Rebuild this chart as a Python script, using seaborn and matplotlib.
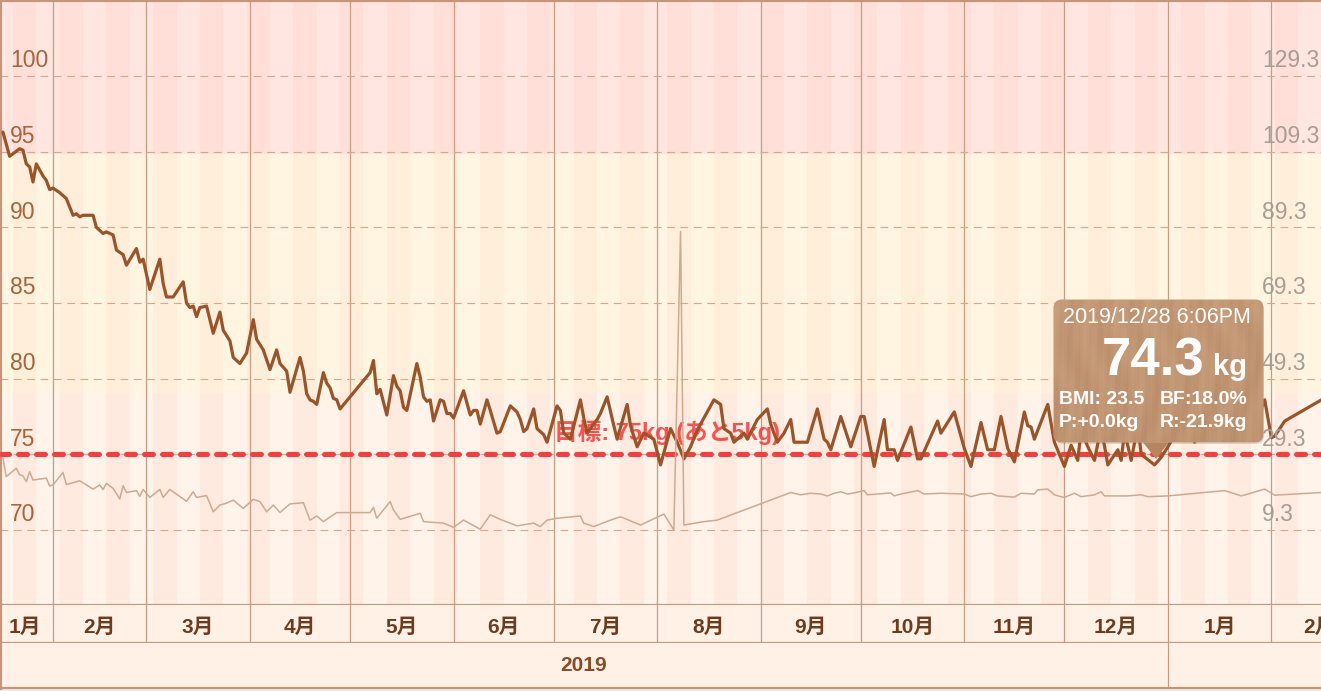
import numpy as np
import pandas as pd
import seaborn as sns
import matplotlib.pyplot as plt
import matplotlib.transforms as mtransforms
from matplotlib.patches import Rectangle, FancyBboxPatch, Polygon

# measurement days, counted from 2019-01-01 (= day 0)
weight_day = [16, 18, 21, 22, 23, 24, 25, 26, 28, 29,
              30, 31, 33, 35, 37, 38, 39, 40, 43, 44,
              46, 47, 49, 50, 52, 53, 56, 57, 58, 60,
              63, 64, 65, 67, 70, 71, 72, 73, 74, 75,
              77, 79, 81, 82, 84, 85, 87, 89, 91, 92,
              94, 96, 98, 99, 101, 102, 105, 106, 107, 108,
              109, 110, 112, 113, 114, 115, 116, 117, 126, 127,
              128, 129, 131, 133, 134, 135, 136, 137, 140, 141,
              142, 143, 144, 145, 147, 148, 149, 150, 151, 154,
              156, 157, 158, 159, 161, 162, 164, 165, 168, 170,
              171, 172, 173, 175, 176, 178, 179, 182, 183, 184,
              186, 189, 190, 191, 192, 194, 195, 197, 199, 200,
              203, 204, 206, 208, 211, 213, 216, 218, 220, 222,
              224, 229, 231, 232, 234, 235, 238, 239, 242, 245,
              246, 248, 250, 252, 253, 255, 257, 260, 262, 263,
              264, 267, 270, 273, 274, 277, 280, 281, 283, 284,
              288, 290, 291, 296, 297, 301, 304, 306, 309, 311,
              313, 315, 317, 319, 322, 323, 324, 325, 329, 331,
              334, 336, 338, 339, 341, 343, 345, 347, 350, 351,
              352, 354, 356, 357, 361, 363, 365, 369, 373, 378,
              382, 387, 391, 394, 396, 397, 400, 411]
weight_kg = [96.3, 94.7, 95.2, 95.1, 94.2, 94.0, 93.0, 94.2, 93.4, 93.1,
             92.5, 92.6, 92.3, 91.9, 90.8, 90.9, 90.7, 90.8, 90.8, 90.0,
             89.6, 89.7, 89.5, 88.5, 88.2, 87.5, 88.6, 87.7, 87.9, 85.9,
             87.9, 86.3, 85.4, 85.4, 86.4, 85.0, 84.7, 84.8, 84.1, 84.7,
             84.8, 83.0, 84.4, 83.2, 82.5, 81.4, 81.0, 81.7, 83.9, 82.6,
             81.9, 80.6, 81.9, 81.0, 80.5, 79.1, 81.4, 80.5, 79.0, 78.6,
             78.5, 78.3, 80.4, 79.7, 79.4, 78.7, 78.6, 78.0, 80.4, 81.2,
             79.0, 79.3, 77.6, 80.2, 79.5, 79.2, 78.1, 77.9, 81.0, 80.1,
             78.8, 78.5, 78.6, 77.2, 78.6, 78.5, 77.7, 77.7, 77.4, 79.2,
             77.6, 77.9, 77.9, 77.0, 78.6, 77.9, 76.4, 76.5, 78.2, 77.8,
             77.3, 76.5, 76.7, 78.0, 76.7, 76.3, 75.8, 78.2, 77.9, 76.4,
             76.0, 78.6, 77.4, 76.4, 76.7, 77.3, 77.7, 78.8, 76.9, 76.0,
             78.3, 76.9, 75.5, 76.4, 76.0, 74.3, 76.7, 75.8, 74.7, 75.5,
             76.6, 78.6, 78.3, 76.7, 76.4, 75.8, 76.4, 76.0, 77.3, 78.0,
             77.0, 75.8, 76.4, 77.3, 75.8, 75.8, 75.8, 78.0, 76.0, 75.8,
             75.3, 77.5, 75.5, 77.5, 77.5, 74.2, 77.3, 75.3, 75.3, 74.6,
             76.8, 74.7, 74.7, 77.2, 76.4, 77.8, 75.4, 74.2, 77.1, 75.3,
             75.3, 77.5, 75.4, 74.5, 77.8, 76.9, 76.8, 76.0, 78.3, 75.8,
             74.2, 75.6, 74.6, 76.6, 75.5, 74.6, 76.8, 74.3, 75.3, 74.6,
             76.5, 74.6, 76.9, 75.0, 74.3, 74.8, 75.5, 77.0, 75.8, 77.2,
             76.0, 77.5, 76.8, 78.6, 76.1, 76.2, 77.2, 78.6]

fat_day = [16, 17, 20, 21, 22, 23, 24, 25, 29, 30,
           31, 34, 35, 39, 43, 45, 46, 47, 49, 51,
           52, 53, 56, 57, 58, 60, 63, 64, 66, 71,
           73, 74, 77, 79, 81, 83, 85, 88, 91, 93,
           95, 97, 99, 102, 106, 108, 110, 112, 116, 126,
           127, 128, 132, 133, 135, 141, 142, 148, 151, 154,
           159, 162, 165, 170, 175, 177, 179, 182, 189, 190,
           193, 198, 201, 207, 214, 217, 219, 220, 226, 230,
           252, 255, 258, 261, 263, 265, 267, 269, 271, 274,
           275, 278, 282, 283, 285, 290, 292, 297, 304, 306,
           309, 312, 314, 319, 321, 325, 326, 329, 331, 333,
           334, 337, 339, 343, 345, 346, 349, 353, 357, 359,
           365, 382, 387, 394, 397, 411]
fat_pct = [28.3, 23.4, 25.6, 23.9, 23.6, 22.1, 24.7, 22.5, 23.0, 20.9,
           21.2, 24.5, 21.3, 22.3, 20.1, 21.2, 20.0, 21.6, 20.3, 17.5,
           21.0, 19.2, 19.7, 18.2, 20.0, 17.9, 20.0, 17.9, 20.0, 16.9,
           19.4, 17.9, 18.4, 14.1, 15.9, 16.4, 17.2, 15.0, 17.4, 16.8,
           14.1, 15.9, 13.9, 16.2, 16.5, 11.9, 13.0, 11.5, 13.9, 13.9,
           15.3, 12.4, 16.8, 14.6, 12.1, 13.7, 11.5, 11.1, 10.0, 11.9,
           9.5, 13.3, 12.1, 10.4, 11.1, 10.2, 11.9, 12.4, 13.0, 11.1,
           10.2, 11.9, 12.8, 10.6, 13.5, 9.3, 88.2, 10.6, 11.5, 11.9,
           19.2, 18.6, 19.0, 18.8, 18.3, 19.0, 19.4, 18.8, 19.1, 19.7,
           18.6, 18.8, 19.1, 18.3, 18.8, 19.7, 18.8, 19.0, 18.8, 18.1,
           18.8, 19.0, 18.3, 18.0, 19.0, 18.8, 19.9, 20.1, 18.6, 18.1,
           17.9, 19.0, 18.1, 18.6, 19.4, 18.3, 18.3, 18.3, 18.6, 18.1,
           18.3, 19.7, 18.3, 20.1, 18.5, 19.2]

kg_ticks = [70, 75, 80, 85, 90, 95, 100]
fat_ticks = [9.3, 29.3, 49.3, 69.3, 89.3, 109.3, 129.3]
year_names = ["2019"]

goal_kg = 75
goal_label = "目標: 75kg (あと5kg)"
tip_date = "2019/12/28 6:06PM"
tip_day = 361
tip_kg = 74.3
tip_bmi = 23.5
tip_fat = 18.0
tip_p = "+0.0kg"
tip_r = "-21.9kg"

# ---- layout (pixels) ----
W, H = 1321, 691
px_per_day = 3.338
x_lo = 15.12
x_hi = x_lo + W / px_per_day
kg_lo, kg_hi = 65.04, 105.03
fat_lo, fat_hi = 9.3 + 4 * (kg_lo - 70), 9.3 + 4 * (kg_hi - 70)

# BMI zones (height taken from the tooltip values)
h2 = tip_kg / tip_bmi
bmi25, bmi30 = 25 * h2, 30 * h2
zones = [(kg_lo, bmi25, "#FFF3EA", "#FEEADE"),
         (bmi25, bmi30, "#FFF5E1", "#FFEFDA"),
         (bmi30, kg_hi, "#FFE6E0", "#FFDFD7")]

base = pd.Timestamp("2019-01-01")
month_starts = pd.date_range("2019-01-01", "2020-03-01", freq="MS")
month_days = [(d - base).days for d in month_starts]
year_days = [0, 365]

brown_line = "#9B5428"
fat_color = "#CDAA92"
grid_color = "#D7A88F"
vline_color = "#C79C83"
frame_color = "#C8957A"

sns.set_theme(style="white")
plt.rcParams["font.family"] = ["Liberation Sans", "Noto Sans CJK JP", "DejaVu Sans"]

fig = plt.figure(figsize=(W / 100, H / 100), dpi=100)
fig.patch.set_facecolor("#EDEAE8")


def fbox(x0, y0, x1, y1):
    return [x0 / W, 1 - y1 / H, (x1 - x0) / W, (y1 - y0) / H]


ax = fig.add_axes(fbox(0, 0, W, 605))
axm = fig.add_axes(fbox(0, 605, W, 643), sharex=ax)
axy = fig.add_axes(fbox(0, 643, W, 688), sharex=ax)

# background zones + weekly stripes (weeks start on Sunday)
for lo, hi, light, dark in zones:
    ax.axhspan(lo, hi, color=light, lw=0, zorder=0.1)
    for s in range(19 - 14, 430, 14):
        ax.add_patch(Rectangle((s, lo), 7, hi - lo, color=dark, lw=0, zorder=0.2))

ax.set_axisbelow(True)
ax.set_yticks(kg_ticks)
ax.set_xticks(month_days)
ax.yaxis.grid(True, color=grid_color, lw=0.8, ls=(0, (7, 5)))
ax.xaxis.grid(True, color=vline_color, lw=0.9, ls="-")
ax.tick_params(left=False, bottom=False, labelleft=False, labelbottom=False)

# goal line and label
ax.axhline(goal_kg, color="#FF3B3B", lw=3.6, ls=(0, (1.8, 1.8)),
           dash_capstyle="round", zorder=3)
ax.text(0.505, 76.43, goal_label, transform=mtransforms.blended_transform_factory(ax.transAxes, ax.transData),
        ha="center", va="center", color="#FF3434", alpha=0.85, fontsize=17,
        fontweight="bold", zorder=3.5)

# weight line
sns.lineplot(x=weight_day, y=weight_kg, ax=ax, color=brown_line, lw=2.3,
             estimator=None, sort=False, zorder=4)

# body fat on the right scale
ax2 = ax.twinx()
sns.lineplot(x=fat_day, y=fat_pct, ax=ax2, color=fat_color, lw=1.1,
             estimator=None, sort=False)
ax2.set_ylim(fat_lo, fat_hi)
ax2.tick_params(right=False, labelright=False)
ax2.grid(False)
ax2.set_ylabel("")
for sp in ax2.spines.values():
    sp.set_visible(False)

ax.set_xlim(x_lo, x_hi)
ax.set_ylim(kg_lo, kg_hi)
ax.set_xlabel("")
ax.set_ylabel("")

# value labels sitting above the gridlines
lab_l = mtransforms.offset_copy(
    mtransforms.blended_transform_factory(ax.transAxes, ax.transData), fig=fig, y=6.2, units="points")
for v in kg_ticks:
    ax.text(10 / W, v, str(v), transform=lab_l, ha="left", va="baseline",
            fontsize=16.5, color="#A5643A", zorder=5)
lab_r = mtransforms.offset_copy(
    mtransforms.blended_transform_factory(ax2.transAxes, ax2.transData), fig=fig, y=6.2, units="points")
for v in fat_ticks:
    ax2.text(1262 / W, v, f"{v:.1f}", transform=lab_r, ha="left", va="baseline",
             fontsize=16.5, color="#A89D96", zorder=5)

# month row
axm.set_facecolor("#FFF1E6")
axm.set_ylim(0, 1)
axm.xaxis.grid(True, color=vline_color, lw=0.9, ls="-")
axm.yaxis.grid(False)
axm.tick_params(left=False, bottom=False, labelleft=False, labelbottom=False)
for i in range(len(month_days) - 1):
    start, end = month_days[i], month_days[i + 1]
    vs, ve = max(start, x_lo), min(end, x_hi)
    if ve <= vs:
        continue
    pos = max((start + end) / 2, vs + 7.5)
    axm.text(pos, 0.40, f"{month_starts[i].month}月", ha="center", va="center",
             fontsize=15, fontweight="bold", color="#6E3B1C")

# year row
axy.set_facecolor("#FFF1E6")
axy.set_ylim(0, 1)
axy.grid(False)
axy.tick_params(left=False, bottom=False, labelleft=False, labelbottom=False)
axy.axvline(year_days[1], color=vline_color, lw=0.9)
for i, name in enumerate(year_names):
    vs, ve = max(year_days[i], x_lo), min(year_days[i + 1], x_hi)
    axy.text((vs + ve) / 2, 0.5, name, ha="center", va="center",
             fontsize=15, fontweight="bold", color="#8B4A22")

# frame
for a in (ax, axm, axy):
    for sp in a.spines.values():
        sp.set_visible(False)
    a.spines["left"].set_visible(True)
    a.spines["left"].set_color(frame_color)
    a.spines["left"].set_linewidth(3)
    a.spines["bottom"].set_visible(True)
    a.spines["bottom"].set_color(frame_color)
    a.spines["bottom"].set_linewidth(1.6)
ax.spines["top"].set_visible(True)
ax.spines["top"].set_color(frame_color)
ax.spines["top"].set_linewidth(3)


# ---- tooltip (drawn in pixel space) ----
def pxt(x, y):
    return x / 100, (H - y) / 100


bx0, by0, bx1, by1 = 1054, 300, 1263, 442
tri = Polygon([pxt(1142, by1 - 1), pxt(1170, by1 - 1), pxt(1156, 459)], closed=True,
              transform=fig.dpi_scale_trans, facecolor="#B4865F", edgecolor="none", zorder=10)
fig.add_artist(tri)
shadow = FancyBboxPatch(pxt(bx0 + 1, by1 + 2), (bx1 - bx0) / 100, (by1 - by0) / 100,
                        boxstyle="round,pad=0,rounding_size=0.08", transform=fig.dpi_scale_trans,
                        facecolor="#6B4A30", alpha=0.18, edgecolor="none", zorder=9)
fig.add_artist(shadow)
box = FancyBboxPatch(pxt(bx0, by1), (bx1 - bx0) / 100, (by1 - by0) / 100,
                     boxstyle="round,pad=0,rounding_size=0.08", transform=fig.dpi_scale_trans,
                     facecolor="#BA8D69", edgecolor="#C9A283", lw=0.8, zorder=10)
fig.add_artist(box)

th, tw = by1 - by0, bx1 - bx0
yy, xx = np.mgrid[0:th, 0:tw]
grain = (0.55 * np.sin(xx * 0.19 + 2.2 * np.sin(yy * 0.04 + xx * 0.012))
         + 0.3 * np.sin(xx * 0.63 + yy * 0.035) + 0.15 * np.sin(xx * 1.7))
t = np.clip(0.45 + 0.22 * grain + 0.15 * (1 - yy / th), 0, 1)
c_dark = np.array([0.70, 0.52, 0.38])
c_light = np.array([0.81, 0.65, 0.51])
wood = c_dark + (c_light - c_dark) * t[..., None]
im = fig.figimage(wood, xo=bx0, yo=H - by1, origin="upper", zorder=11)
im.set_clip_path(box)

tip_kw = dict(transform=fig.dpi_scale_trans, color="white", zorder=12)
fig.text(*pxt(1157, 323), tip_date, ha="center", va="baseline", fontsize=15.5, **tip_kw)
fig.text(*pxt(1204, 375), f"{tip_kg:.1f}", ha="right", va="baseline", fontsize=38,
         fontweight="bold", **tip_kw)
fig.text(*pxt(1213, 375), "kg", ha="left", va="baseline", fontsize=21, fontweight="bold", **tip_kw)
fig.text(*pxt(1059, 404), f"BMI: {tip_bmi:.1f}", ha="left", va="baseline", fontsize=14,
         fontweight="bold", **tip_kw)
fig.text(*pxt(1160, 404), f"BF:{tip_fat:.1f}%", ha="left", va="baseline", fontsize=14,
         fontweight="bold", **tip_kw)
fig.text(*pxt(1059, 427), f"P:{tip_p}", ha="left", va="baseline", fontsize=14,
         fontweight="bold", **tip_kw)
fig.text(*pxt(1160, 427), f"R:{tip_r}", ha="left", va="baseline", fontsize=14,
         fontweight="bold", **tip_kw)

fig.savefig("out.png", dpi=100)
